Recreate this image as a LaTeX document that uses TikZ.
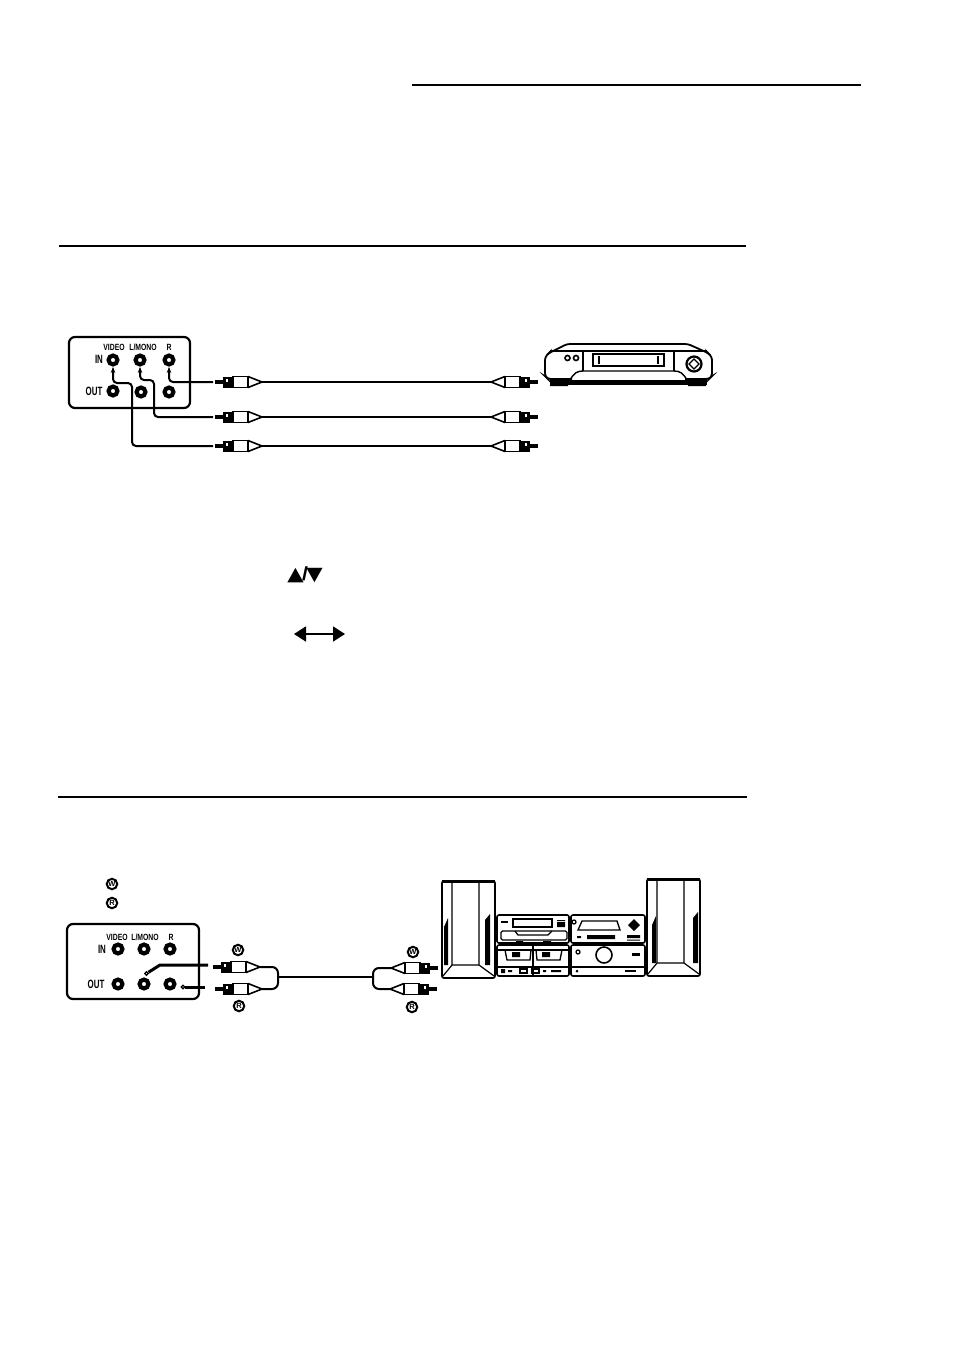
\documentclass[tikz,border=0pt]{standalone}
\usepackage{fontspec}
\setmainfont{Liberation Sans}
\newfontfamily\symfont{DejaVu Sans}
\usetikzlibrary{positioning,calc,arrows,arrows.meta}

\tikzset{
	rule/.style={line width=2pt},
	box/.style={line width=2.2pt,rounded corners=6pt},
	wire/.style={line width=2pt,rounded corners=4pt},
	feed/.style={wire,-{Stealth[length=6pt,width=4.5pt]},shorten >=2.5pt},
	jack/.style={circle,draw,line width=4.2pt,minimum size=8.8pt,inner sep=0pt,outer sep=0pt},
	small/.style={font=\bfseries\fontsize{9}{9}\selectfont,xscale=.76,inner sep=0pt},
	big/.style={font=\bfseries\fontsize{12}{12}\selectfont,xscale=.66,inner sep=0pt},
	badge/.style={circle,draw,line width=2pt,minimum size=10.5pt,inner sep=0pt,font=\bfseries\fontsize{7.5}{7.5}\selectfont},
	tipend/.style={circle,draw,line width=1.2pt,minimum size=3.5pt,inner sep=0pt},
	plug/.pic={
		\fill (0,-1.8) rectangle (8,1.8);
		\fill (8,-5.5) rectangle (18,5.5);
		\fill[white] (11,-3) rectangle (13,0);
		\draw[line width=1.6pt] (18,-5.5) rectangle (33,5.5);
		\draw[line width=1.6pt,line join=round] (33,-5.5) -- (47,0) -- (33,5.5);
		\coordinate (-tip) at (-2,0);
		\coordinate (-tail) at (47,0);
	},
	speaker/.pic={
		\draw[line width=1.7pt,rounded corners=2pt] (0,1) rectangle (53,98);
		\draw[line width=3pt] (0,1) -- (53,1);
		\draw[line width=1.2pt] (10,2) -- (10,85) -- (37,85) -- (37,2) (10,85) -- (1,96) (37,85) -- (52,96);
		\fill (#1,47) -- (#1+4,38) -- (#1+4,85) -- (#1,85) -- cycle;
		\fill (41+#1,40) -- (46+#1,34) -- (46+#1,85) -- (41+#1,85) -- cycle;
	},
}

\begin{document}
\begin{tikzpicture}[x=1pt,y=-1pt,>=stealth']
	\useasboundingbox (0,0) rectangle (954,1350);

	\draw[rule] (412,85) -- (861,85);
	\draw[rule] (59,246) -- (746,246);
	\draw[rule] (58,797) -- (747,797);

	% first panel
	\draw[box] (69,337) rectangle (190,408);
	\node[jack] (inv) at (113,360) {};
	\node[jack] (inl) at (140,360) {};
	\node[jack] (inr) at (169,360) {};
	\node[jack] (outv) at (113,391) {};
	\node[jack] (outl) at (141,392) {};
	\node[jack] (outr) at (169,392) {};
	\node[small] (video) at (114,347) {VIDEO};
	\node[small] (mono) at (143,347) {L/MONO};
	\node[small] (right) at (169,347) {R};
	\node[big] (in) at (99,359) {IN};
	\node[big] (out) at (94,391) {OUT};

	\pic (pr) at (215,382) {plug};
	\pic (pl) at (215,417) {plug};
	\pic (pv) at (215,446) {plug};
	\pic[xscale=-1] (qr) at (538,382) {plug};
	\pic[xscale=-1] (ql) at (538,417) {plug};
	\pic[xscale=-1] (qv) at (538,446) {plug};
	\draw[wire] (pr-tail) -- (qr-tail);
	\draw[wire] (pl-tail) -- (ql-tail);
	\draw[wire] (pv-tail) -- (qv-tail);

	\coordinate (bendl) at (154,380);
	\coordinate (bendv) at (132,383);
	\draw[feed] (pr-tip) -| (inr);
	\draw[feed] (pl-tip) -| (bendl) -| (inl);
	\draw[feed] (pv-tip) -| (bendv) -| (inv);

	% recorder
	\draw[line width=1.8pt,rounded corners=3pt] (572,379) -- (548,379) -- (545,376) -- (545,357) -- (549,353) -- (567,344) -- (688,344) -- (708,353) -- (712,357) -- (712,376) -- (709,379) -- (685,379);
	\draw[line width=1.4pt] (570,380) .. controls (574,373) and (577,371) .. (583,371) -- (674,371) .. controls (680,371) and (683,373) .. (687,380);
	\draw[line width=1.4pt] (583,351) -- (583,371) (674,351) -- (674,371) (550,351) -- (707,351);
	\fill (550,380) rectangle (707,384.5);
	\fill (550,384) rectangle (568,386) (688,384) rectangle (706,386);
	\draw[line width=1.6pt] (567.5,358) circle (2.5pt) (576,358) circle (2.5pt);
	\draw[line width=1.6pt] (593,354) rectangle (664,366);
	\draw[line width=1.3pt] (599,356) -- (599,364) (658,356) -- (658,364);
	\draw[line width=2.2pt] (694,364) circle (7.5pt);
	\draw[line width=1.3pt] (694,359) -- (699,364) -- (694,369) -- (689,364) -- cycle;

	\node[font=\symfont\fontsize{19}{19}\selectfont,xscale=1.12] (updown) at (305,575) {▲\kern-1.5pt\raisebox{-.5pt}{\rmfamily\bfseries/}\kern-1.5pt▼};
	\coordinate (lefthead) at (294,634);
	\coordinate (righthead) at (345,634);
	\draw[line width=1.8pt,{Triangle[length=12pt,width=15pt]}-{Triangle[length=12pt,width=15pt]}] (lefthead) -- (righthead);

	% second panel
	\node[badge] (legw) at (112,884) {W};
	\node[badge] (legr) at (112,903) {R};
	\draw[box] (67,924) rectangle (199,999);
	\node[jack] (inv2) at (118,949) {};
	\node[jack] (inl2) at (144,949) {};
	\node[jack] (inr2) at (170,949) {};
	\node[jack] (outv2) at (118,984) {};
	\node[jack] (outl2) at (144,984) {};
	\node[jack] (outr2) at (170,984) {};
	\node[small] (video2) at (117,937) {VIDEO};
	\node[small] (mono2) at (145,937) {L/MONO};
	\node[small] (right2) at (171,937) {R};
	\node[big] (in2) at (102,949) {IN};
	\node[big] (out2) at (96,984) {OUT};

	\pic (aw) at (213,967) {plug};
	\pic (ar) at (215,989) {plug};
	\pic[xscale=-1] (bw) at (438,968) {plug};
	\pic[xscale=-1] (br) at (437,989) {plug};
	\node[badge] (maw) at (238,950) {W};
	\node[badge] (mar) at (239,1006) {R};
	\node[badge] (mbw) at (413,952) {W};
	\node[badge] (mbr) at (412,1007) {R};

	\coordinate (yl) at (278,977);
	\coordinate (yr) at (373,977);
	\draw[wire,rounded corners=6pt] (aw-tail) -| (yl);
	\draw[wire,rounded corners=6pt] (ar-tail) -| (yl);
	\draw[wire,rounded corners=6pt] (bw-tail) -| (yr);
	\draw[wire,rounded corners=6pt] (br-tail) -| (yr);
	\draw[wire] (yl) -- (yr);

	\node[tipend] (endw) at (146.5,973.5) {};
	\node[tipend] (endr) at (183,987) {};
	\coordinate (wirew) at (208,965);
	\coordinate (bendw) at (160,965);
	\coordinate (wirer) at (205,987);
	\draw[line width=3pt] (wirew) -- (bendw) -- (endw);
	\draw[line width=3pt] (wirer) -- (endr);

	% stereo
	\pic at (442,880) {speaker=2};
	\pic at (647,878) {speaker=5};
	\draw[line width=1.6pt,rounded corners=2pt] (497,915) rectangle (569,943);
	\draw[line width=1.6pt,rounded corners=2pt] (571,915) rectangle (645,943);
	\draw[line width=1.6pt,rounded corners=2pt] (497,945) rectangle (569,976);
	\draw[line width=1.6pt,rounded corners=2pt] (571,945) rectangle (645,976);
	% upper left
	\draw[line width=1.3pt] (513,919) rectangle (552,927);
	\fill (501,921) rectangle (508,923);
	\fill (557,920) rectangle (565,921) (557,922) rectangle (565,927);
	\draw[line width=1.3pt,rounded corners=1.5pt] (501,931) rectangle (567,940);
	\draw[line width=1.3pt] (515,931) -- (518,935) -- (548,935) -- (552,931);
	\fill (516,941) rectangle (523,944) (543,941) rectangle (551,944);
	% upper right
	\draw[line width=1.3pt] (574,922) circle (2pt);
	\draw[line width=1.3pt] (578,930) -- (582,921) -- (617,921) -- (620,930) -- cycle;
	\fill (634,919) -- (640,925) -- (634,931) -- (628,925) -- cycle;
	\fill (587,935) rectangle (615,939) (577,936) rectangle (581,938);
	\fill (627,935) rectangle (640,938) (627,939.5) rectangle (640,940.5);
	% lower left
	\draw[line width=1.3pt] (497,950) -- (569,950) (497,967) -- (569,967) (533,945) -- (533,976);
	\draw[line width=1.3pt] (505,950) -- (507,960) -- (530,960) -- (531,950);
	\draw[line width=1.3pt] (536,950) -- (537,960) -- (560,960) -- (562,950);
	\fill (512,952) rectangle (520,957) (542,952) rectangle (550,957);
	\fill (501,969) rectangle (505,973) (508,970) rectangle (512,972);
	\draw[line width=1.1pt] (520,969) rectangle (527,973) (532,969) rectangle (539,973);
	\fill (543,970) rectangle (546,972) (551,970) rectangle (561,972);
	% lower right
	\draw[line width=1.3pt] (578,952) circle (2pt);
	\draw[line width=1.6pt] (604,955) circle (8pt);
	\fill (632,953) rectangle (640,955.5);
	\draw[line width=1.3pt] (571,967) -- (645,967);
	\fill (577,971) circle (1.5pt);
	\fill (625,970) rectangle (636,972);
\end{tikzpicture}
\end{document}
